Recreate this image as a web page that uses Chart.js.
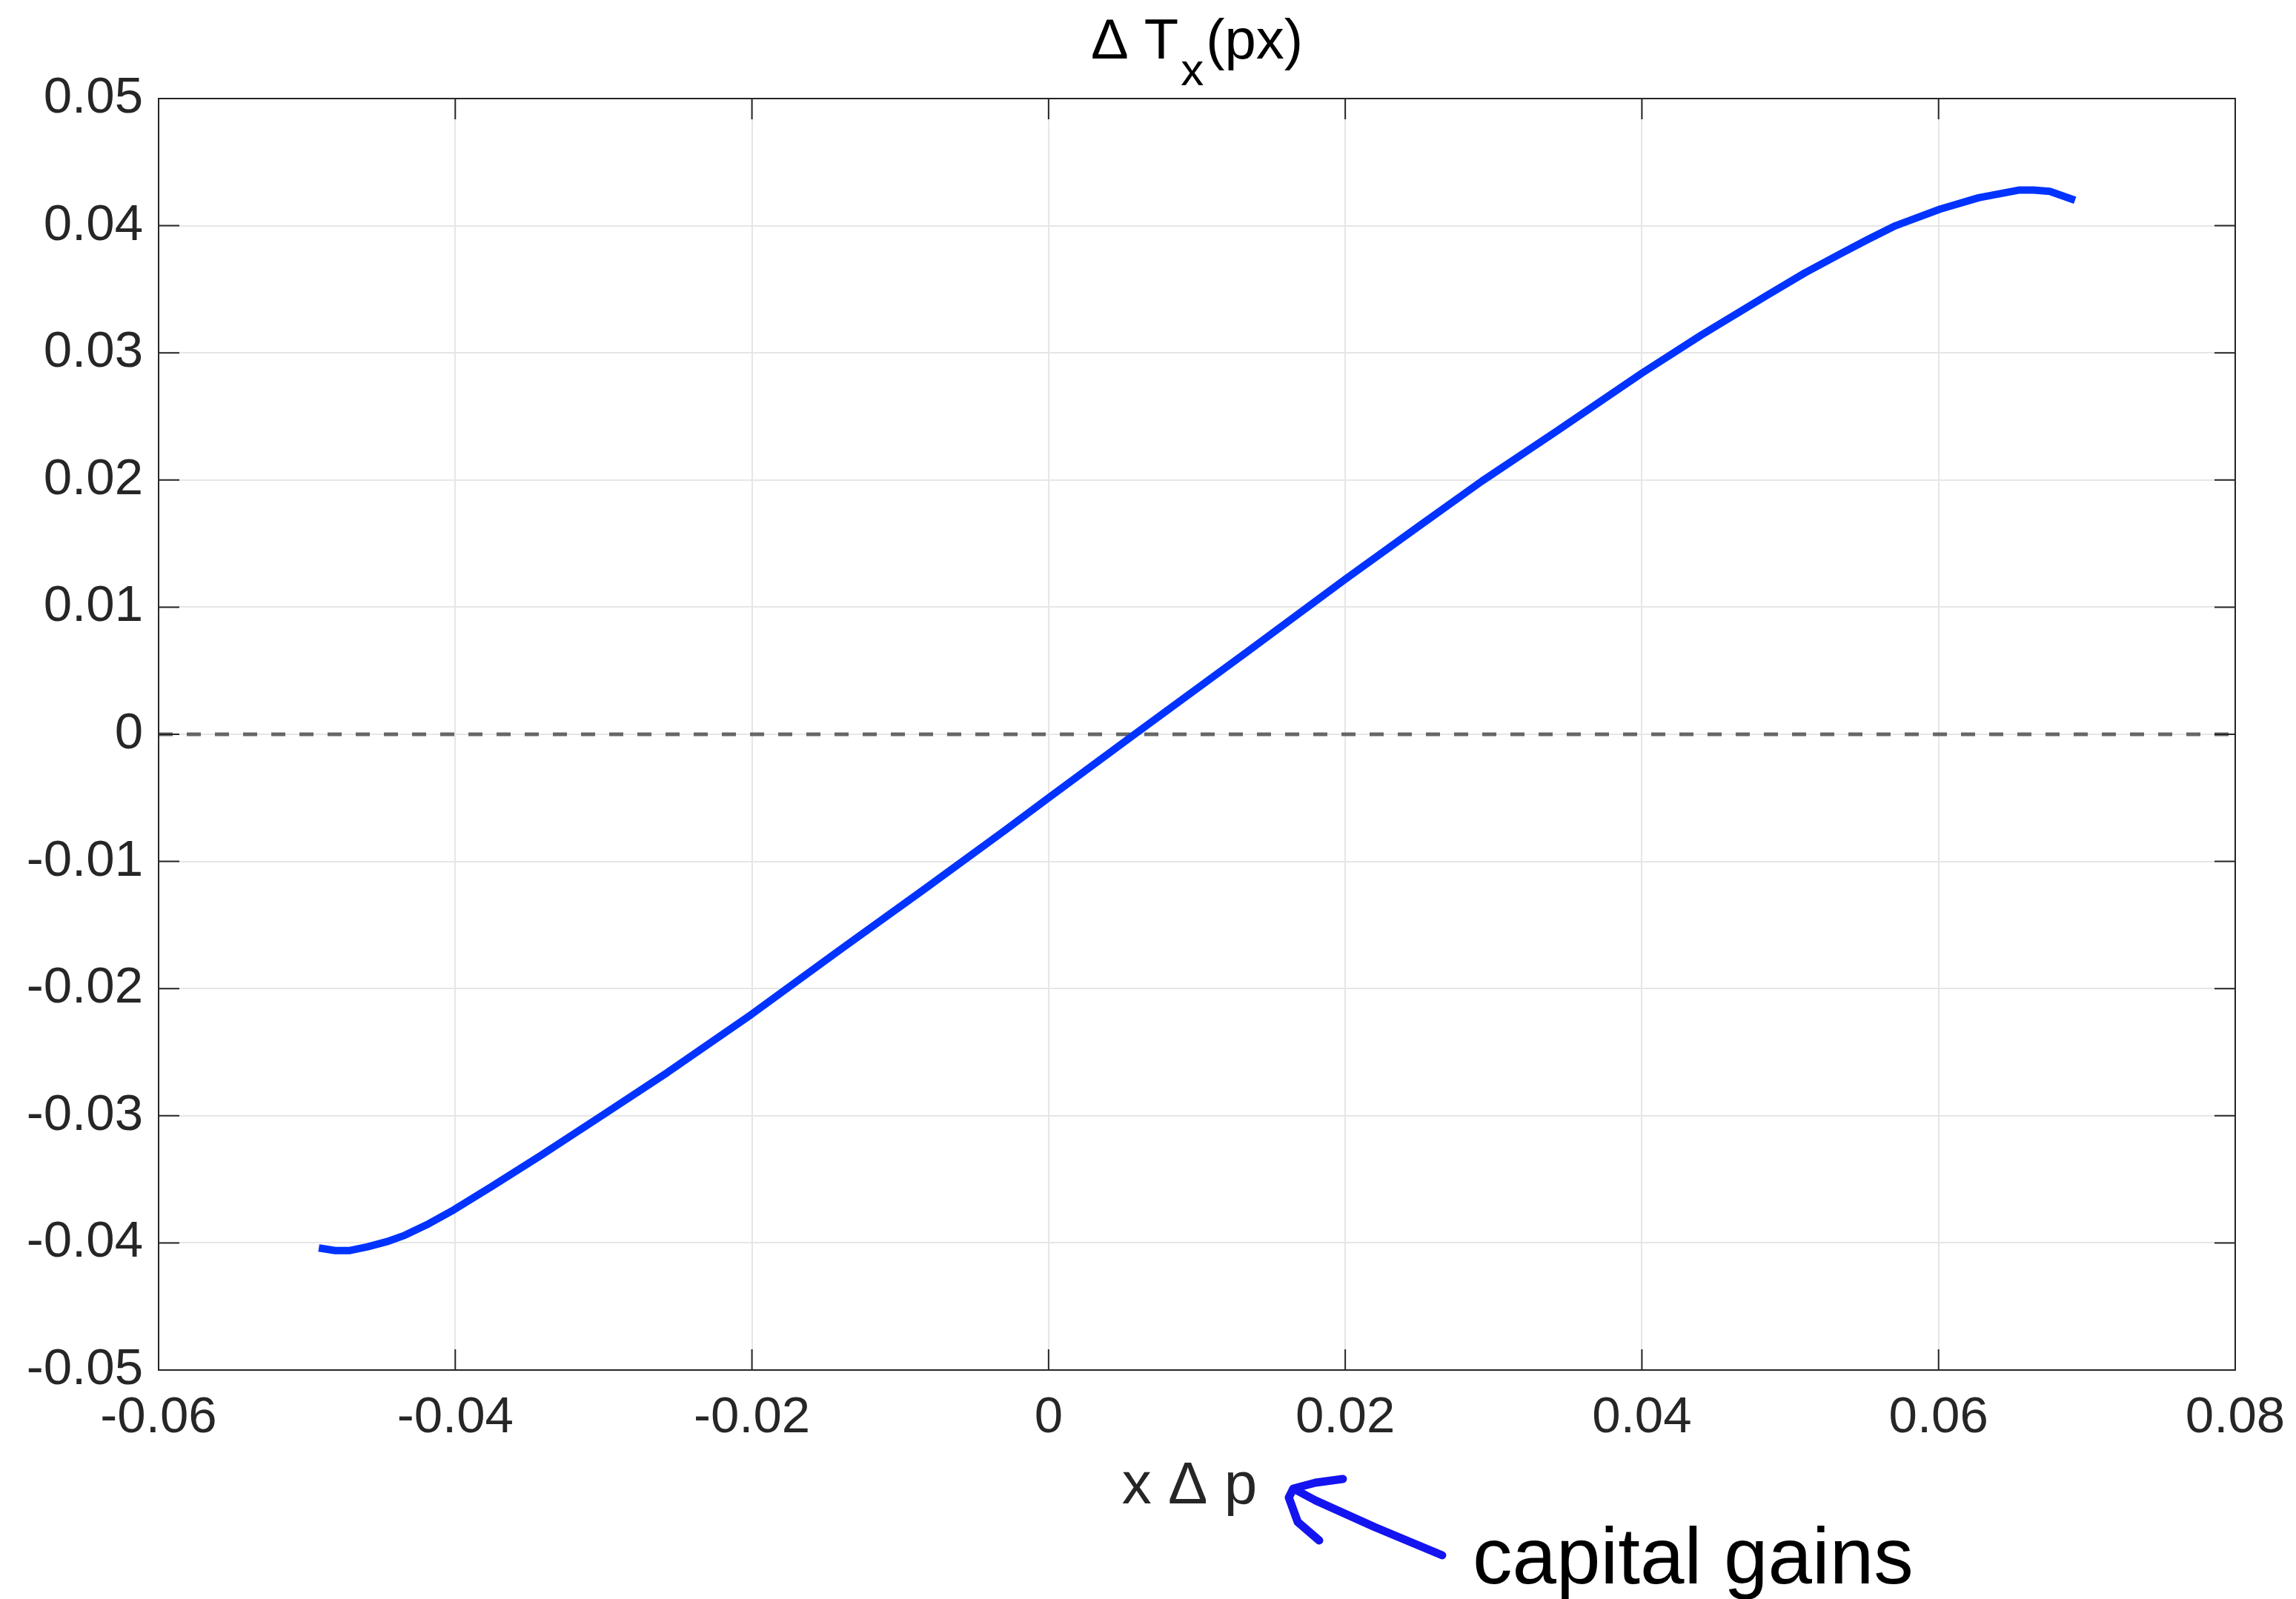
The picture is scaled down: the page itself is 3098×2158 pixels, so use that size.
<!DOCTYPE html>
<html>
<head>
<meta charset="utf-8">
<title>Delta Tx(px) against x Delta p</title>
<script src="https://cdn.jsdelivr.net/npm/chart.js@4.4.1/dist/chart.umd.min.js"></script>
<style>
  html, body { margin: 0; padding: 0; background: #ffffff; }
  #wrap { width: 3098px; height: 2158px; }
</style>
</head>
<body>
<div id="wrap"><canvas id="chart" width="3098" height="2158"></canvas></div>
<script>
// Curve: x * delta p (horizontal) against delta Tx(px) (vertical)
const xDeltaP = [-0.0492, -0.0481, -0.0471, -0.0459, -0.0446, -0.0434, -0.0418, -0.0401,
  -0.0376, -0.0342, -0.0300, -0.0257, -0.0200, -0.0140, -0.0084, -0.0030, 0.0000,
  0.0058, 0.0134, 0.0200, 0.0250, 0.0292, 0.0342, 0.0400, 0.0440, 0.0484, 0.0510,
  0.0534, 0.0552, 0.0571, 0.0601, 0.0627, 0.0654, 0.0664, 0.0675, 0.0692];
const deltaTx = [-0.0404, -0.0406, -0.0406, -0.0403, -0.0399, -0.0394, -0.0385, -0.0374,
  -0.0356, -0.0331, -0.0299, -0.0266, -0.0220, -0.0169, -0.0122, -0.0076, -0.0050,
  0.0000, 0.0065, 0.0122, 0.0164, 0.0199, 0.0238, 0.0284, 0.0314, 0.0345, 0.0363,
  0.0378, 0.0389, 0.0400, 0.0413, 0.0422, 0.0428, 0.0428, 0.0427, 0.0420];

// Dashed reference line at zero
const zeroLineX = [-0.06, 0.08];
const zeroLineY = [0, 0];

// Tick values
const xTicks = [-0.06, -0.04, -0.02, 0, 0.02, 0.04, 0.06, 0.08];
const yTicks = [-0.05, -0.04, -0.03, -0.02, -0.01, 0, 0.01, 0.02, 0.03, 0.04, 0.05];

const FONT = "'Liberation Sans', Arial, Helvetica, sans-serif";
const AXIS_COLOR = '#262626';

function toPoints(xs, ys) {
    return xs.map((x, i) => ({ x: x, y: ys[i] }));
}

// MATLAB style labels: 0, 0.02, -0.05
function formatTick(value) {
    return String(Number(value.toFixed(2)));
}

/**
 * Box, inward ticks, title, axis label and the hand drawn note
 */
const matlabFrame = {
    id: 'matlabFrame',
    afterDraw(chart) {
        const { ctx, chartArea: a, scales } = chart;
        const len = 28;
        ctx.save();

        // axes box and inward ticks on all four sides
        ctx.strokeStyle = AXIS_COLOR;
        ctx.lineWidth = 2;
        ctx.strokeRect(a.left, a.top, a.right - a.left, a.bottom - a.top);
        ctx.beginPath();
        xTicks.forEach(v => {
            const px = scales.x.getPixelForValue(v);
            ctx.moveTo(px, a.bottom); ctx.lineTo(px, a.bottom - len);
            ctx.moveTo(px, a.top); ctx.lineTo(px, a.top + len);
        });
        yTicks.forEach(v => {
            const py = scales.y.getPixelForValue(v);
            ctx.moveTo(a.left, py); ctx.lineTo(a.left + len, py);
            ctx.moveTo(a.right, py); ctx.lineTo(a.right - len, py);
        });
        ctx.stroke();

        // title: Delta T_x(px)
        const cx = (a.left + a.right) / 2;
        const mainFont = `76px ${FONT}`;
        const subFont = `62px ${FONT}`;
        ctx.fillStyle = '#000000';
        ctx.textBaseline = 'alphabetic';
        ctx.textAlign = 'left';
        ctx.font = mainFont;
        const w1 = ctx.measureText('\u0394 T').width;
        const w3 = ctx.measureText('(px)').width;
        ctx.font = subFont;
        const w2 = ctx.measureText('x').width;
        let tx = cx - (w1 + w2 + w3 + 6) / 2;
        ctx.font = mainFont;
        ctx.fillText('\u0394 T', tx, a.top - 54);
        tx += w1 + 3;
        ctx.font = subFont;
        ctx.fillText('x', tx, a.top - 18);
        tx += w2 + 3;
        ctx.font = mainFont;
        ctx.fillText('(px)', tx, a.top - 54);

        // x axis label
        ctx.fillStyle = AXIS_COLOR;
        ctx.textAlign = 'center';
        ctx.font = `80px ${FONT}`;
        ctx.fillText('x \u0394 p', cx - 10, a.bottom + 180);

        // hand written note with arrow
        ctx.fillStyle = '#000000';
        ctx.textAlign = 'left';
        ctx.font = `107px ${FONT}`;
        ctx.fillText('capital gains', cx + 372, a.bottom + 288);

        ctx.strokeStyle = '#1414f0';
        ctx.lineWidth = 11;
        ctx.lineCap = 'round';
        ctx.lineJoin = 'round';
        ctx.beginPath();
        ctx.moveTo(cx + 331, a.bottom + 250);
        ctx.lineTo(cx + 240, a.bottom + 212);
        ctx.lineTo(cx + 160, a.bottom + 176);
        ctx.lineTo(cx + 134, a.bottom + 162);
        ctx.stroke();
        ctx.beginPath();
        ctx.moveTo(cx + 197, a.bottom + 147);
        ctx.lineTo(cx + 160, a.bottom + 152);
        ctx.lineTo(cx + 130, a.bottom + 160);
        ctx.lineTo(cx + 124, a.bottom + 172);
        ctx.lineTo(cx + 136, a.bottom + 205);
        ctx.lineTo(cx + 165, a.bottom + 230);
        ctx.stroke();

        ctx.restore();
    }
};

const ctx = document.getElementById('chart').getContext('2d');
new Chart(ctx, {
    type: 'scatter',
    data: {
        datasets: [
            {
                label: 'delta Tx',
                data: toPoints(xDeltaP, deltaTx),
                showLine: true,
                borderColor: 'rgb(0, 51, 255)',
                borderWidth: 10,
                pointRadius: 0,
                tension: 0,
                borderJoinStyle: 'round',
                order: 0
            },
            {
                label: 'zero',
                data: toPoints(zeroLineX, zeroLineY),
                showLine: true,
                borderColor: '#666666',
                borderWidth: 5,
                borderDash: [19, 19],
                pointRadius: 0,
                order: 1
            }
        ]
    },
    options: {
        responsive: false,
        animation: false,
        devicePixelRatio: 1,
        layout: { padding: { left: 0, right: 82, top: 133, bottom: 0 } },
        plugins: {
            legend: { display: false },
            title: { display: false },
            tooltip: { enabled: false }
        },
        scales: {
            x: {
                type: 'linear',
                min: -0.06,
                max: 0.08,
                afterBuildTicks: scale => { scale.ticks = xTicks.map(v => ({ value: v })); },
                afterFit: scale => {
                    scale.height = 309;
                    scale.paddingLeft = 0;
                    scale.paddingRight = 0;
                },
                grid: { color: '#e6e6e6', lineWidth: 2, drawTicks: false },
                border: { display: false },
                ticks: {
                    color: AXIS_COLOR,
                    font: { family: FONT, size: 69 },
                    padding: 24,
                    maxRotation: 0,
                    callback: value => formatTick(value)
                }
            },
            y: {
                type: 'linear',
                min: -0.05,
                max: 0.05,
                afterBuildTicks: scale => { scale.ticks = yTicks.map(v => ({ value: v })); },
                afterFit: scale => {
                    scale.width = 214;
                    scale.paddingTop = 0;
                    scale.paddingBottom = 0;
                },
                grid: { color: '#e6e6e6', lineWidth: 2, drawTicks: false },
                border: { display: false },
                ticks: {
                    color: AXIS_COLOR,
                    font: { family: FONT, size: 69 },
                    padding: 21,
                    callback: value => formatTick(value)
                }
            }
        }
    },
    plugins: [matlabFrame]
});
</script>
</body>
</html>
